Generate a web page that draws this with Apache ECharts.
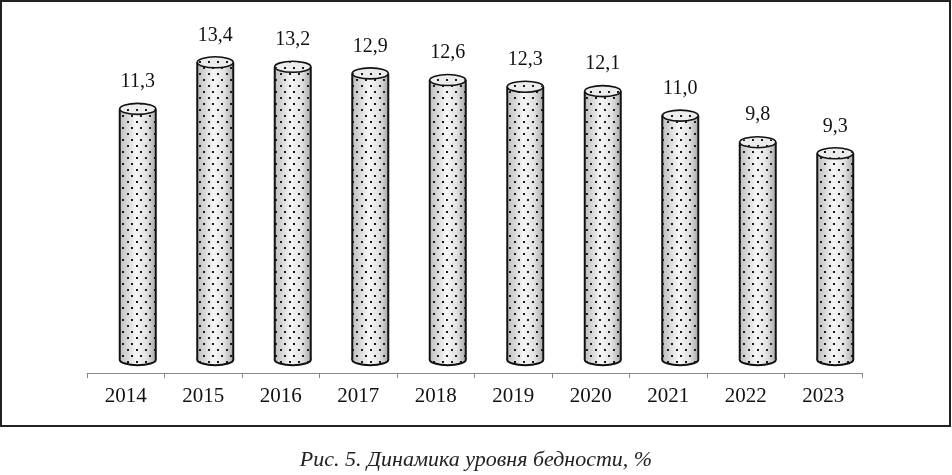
<!DOCTYPE html>
<html>
<head>
<meta charset="utf-8">
<script src="https://cdn.jsdelivr.net/npm/echarts@6/dist/echarts.min.js"></script>
<style>
  html, body { margin: 0; padding: 0; background: #fff; }
  #main { width: 952px; height: 475px; }
</style>
</head>
<body>
<div id="main"></div>
<script>
// годы и уровень бедности, %
var years = ['2014', '2015', '2016', '2017', '2018', '2019', '2020', '2021', '2022', '2023'];
var values = [11.3, 13.4, 13.2, 12.9, 12.6, 12.3, 12.1, 11.0, 9.8, 9.3];
var caption = 'Рис. 5. Динамика уровня бедности, %';

// точечная заливка цилиндров
var dots = document.createElement('canvas');
dots.width = 9;
dots.height = 12;
var dctx = dots.getContext('2d');
dctx.fillStyle = '#1a1a1a';
dctx.fillRect(1, 1, 2, 2);
dctx.fillRect(5, 7, 2, 2);

var shade = new echarts.graphic.LinearGradient(0, 0, 1, 0, [
	{ offset: 0, color: '#bdbdbd' },
	{ offset: 0.45, color: '#f6f6f6' },
	{ offset: 0.75, color: '#e2e2e2' },
	{ offset: 1, color: '#aaaaaa' }
]);
var pattern = { image: dots, repeat: 'repeat' };

function renderItem(params, api) {
	var i = api.value(0), v = api.value(1);
	var top = api.coord([i, v]);
	var base = api.coord([i, 0]);
	var cx = top[0] + 12;
	var rx = 18, ry = 5.5;
	var yt = top[1], yb = base[1];
	return {
		type: 'group',
		children: [
			{ type: 'ellipse', shape: { cx: cx, cy: yb, rx: rx, ry: ry },
				style: { fill: shade, stroke: '#111', lineWidth: 2 } },
			{ type: 'ellipse', shape: { cx: cx, cy: yb, rx: rx, ry: ry },
				style: { fill: pattern } },
			{ type: 'rect', shape: { x: cx - rx, y: yt, width: rx * 2, height: yb - yt },
				style: { fill: shade } },
			{ type: 'rect', shape: { x: cx - rx, y: yt, width: rx * 2, height: yb - yt },
				style: { fill: pattern } },
			{ type: 'line', shape: { x1: cx - rx, y1: yt, x2: cx - rx, y2: yb },
				style: { stroke: '#111', lineWidth: 2 } },
			{ type: 'line', shape: { x1: cx + rx, y1: yt, x2: cx + rx, y2: yb },
				style: { stroke: '#111', lineWidth: 2 } },
			{ type: 'ellipse', shape: { cx: cx, cy: yt, rx: rx, ry: ry },
				style: { fill: '#ececec', stroke: '#111', lineWidth: 1.6 } },
			{ type: 'ellipse', shape: { cx: cx, cy: yt, rx: rx - 1, ry: ry - 1 },
				style: { fill: pattern } },
			{ type: 'text',
				style: {
					text: v.toFixed(1).replace('.', ','),
					x: cx, y: yt - 27,
					align: 'center', verticalAlign: 'middle',
					font: '20px "Liberation Serif"', fill: '#111'
				} }
		]
	};
}

var chart = echarts.init(document.getElementById('main'));
var option = {
	animation: false,
	backgroundColor: '#fff',
	grid: { left: 87, right: 90, top: 49, bottom: 102 },
	xAxis: {
		type: 'category',
		data: years,
		axisLine: { onZero: false, lineStyle: { color: '#888', width: 1 } },
		axisTick: { show: true, length: 5, lineStyle: { color: '#888' } },
		axisLabel: { color: '#111', fontSize: 21, fontFamily: 'Liberation Serif', margin: 13 }
	},
	yAxis: {
		type: 'value',
		min: -0.6,
		max: 14,
		show: false,
		splitLine: { show: false }
	},
	graphic: [
		{ type: 'rect', shape: { x: 1, y: 1, width: 949, height: 425 },
			style: { fill: 'none', stroke: '#222', lineWidth: 2 }, silent: true },
		{ type: 'text', left: 'center', top: 449,
			style: { text: caption, font: 'italic 22px "Liberation Serif"', fill: '#222' } }
	],
	series: [{
		type: 'custom',
		renderItem: renderItem,
		encode: { x: 0, y: 1 },
		data: values.map(function (v, i) { return [i, v]; })
	}]
};
chart.setOption(option);
</script>
</body>
</html>
